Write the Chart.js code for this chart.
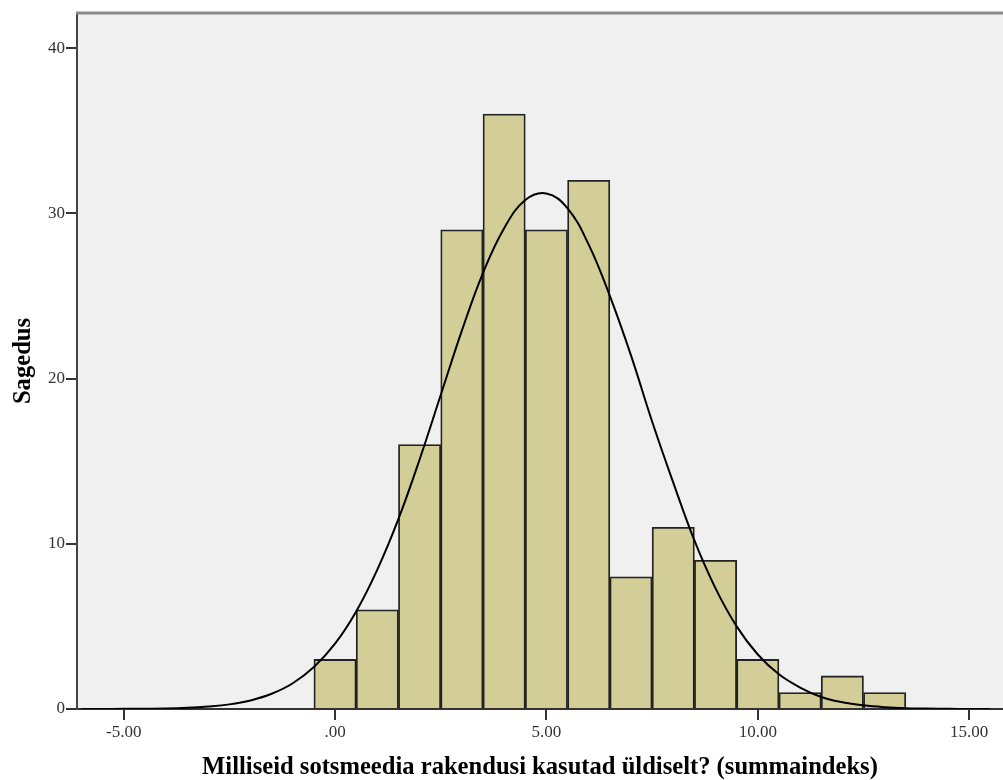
<!DOCTYPE html>
<html>
<head>
<meta charset="utf-8">
<script src="https://cdn.jsdelivr.net/npm/chart.js@4.4.1/dist/chart.umd.min.js"></script>
<style>
  html, body { margin: 0; padding: 0; background: #fff; }
</style>
</head>
<body>
<canvas id="hist" width="1003" height="780"></canvas>
<script>
// histogram: bin centres and counts (bin width 1)
const binCentres = [0, 1, 2, 3, 4, 5, 6, 7, 8, 9, 10, 11, 12, 13];
const counts = [3, 6, 16, 29, 36, 29, 32, 8, 11, 9, 3, 1, 2, 1];

// normal curve, every half unit
const curveX = [-6, -5.5, -5, -4.5, -4, -3.5, -3, -2.5, -2, -1.5, -1, -0.5, 0, 0.5, 1, 1.5, 2, 2.5, 3, 3.5,
  4, 4.5, 5, 5.5, 6, 6.5, 7, 7.5, 8, 8.5, 9, 9.5, 10, 10.5, 11, 11.5, 12, 12.5, 13, 13.5, 14, 14.5, 15, 15.5];
const curveY = [0, 0, 0.01, 0.02, 0.03, 0.07, 0.15, 0.28, 0.52, 0.92, 1.56, 2.54, 3.95, 5.9, 8.43, 11.5, 15.1, 19.0, 22.9, 26.4,
  29.1, 30.8, 31.2, 30.3, 28.1, 25.0, 21.4, 17.4, 13.7, 10.2, 7.3, 5.0, 3.3, 2.1, 1.3, 0.73, 0.41, 0.22, 0.11, 0.05, 0.03, 0.01, 0, 0];

// axis ticks
const xTicks = [-5, 0, 5, 10, 15];
const yTicks = [0, 10, 20, 30, 40];

const serif = '"Liberation Serif", "Times New Roman", serif';

// grey plot background + top frame line
const plotFrame = {
  id: 'plotFrame',
  beforeDraw(chart) {
    const { ctx, chartArea: a } = chart;
    ctx.save();
    ctx.fillStyle = '#f0f0f0';
    ctx.fillRect(a.left, a.top, a.right - a.left, a.bottom - a.top);
    ctx.restore();
  },
  afterDraw(chart) {
    const { ctx, chartArea: a } = chart;
    ctx.save();
    ctx.strokeStyle = '#8a8a8a';
    ctx.lineWidth = 3;
    ctx.beginPath();
    ctx.moveTo(a.left - 1, a.top);
    ctx.lineTo(a.right, a.top);
    ctx.stroke();
    ctx.restore();
  }
};

const ctx = document.getElementById('hist').getContext('2d');
new Chart(ctx, {
  type: 'bar',
  data: {
    datasets: [
      {
        type: 'line',
        data: curveX.map((x, i) => ({ x: x, y: curveY[i] })),
        borderColor: '#000',
        borderWidth: 2,
        pointRadius: 0,
        tension: 0.4,
        fill: false,
        order: 0
      },
      {
        type: 'bar',
        data: binCentres.map((x, i) => ({ x: x, y: counts[i] })),
        backgroundColor: '#d3ce97',
        borderColor: '#222',
        borderWidth: 1.8,
        barPercentage: 1,
        categoryPercentage: 1,
        order: 1
      }
    ]
  },
  options: {
    responsive: false,
    animation: false,
    events: [],
    layout: { padding: { top: 13, right: 0, bottom: 0, left: 0 } },
    plugins: {
      legend: { display: false },
      tooltip: { enabled: false }
    },
    scales: {
      x: {
        type: 'linear',
        min: -6.104,
        max: 15.80,
        offset: false,
        grid: { drawOnChartArea: false, drawTicks: true, tickLength: 11, color: '#333', lineWidth: 2, offset: false },
        border: { display: true, color: '#333', width: 2 },
        ticks: {
          color: '#333',
          font: { family: serif, size: 17 },
          padding: 2,
          maxRotation: 0,
          autoSkip: false,
          callback: (v) => (v === 0 ? '.00' : v.toFixed(2))
        },
        afterBuildTicks: (s) => { s.ticks = xTicks.map((v) => ({ value: v })); },
        afterFit: (s) => { s.height = 71; },
        title: {
          display: true,
          text: 'Milliseid sotsmeedia rakendusi kasutad üldiselt? (summaindeks)',
          color: '#000',
          font: { family: serif, size: 24.6, weight: 'bold', lineHeight: 1 },
          padding: 0
        }
      },
      y: {
        type: 'linear',
        min: 0,
        max: 42.12,
        grid: { drawOnChartArea: false, drawTicks: true, tickLength: 11, color: '#333', lineWidth: 2 },
        border: { display: true, color: '#444', width: 2 },
        ticks: {
          color: '#333',
          font: { family: serif, size: 17 },
          padding: 1,
          callback: (v) => String(v)
        },
        afterBuildTicks: (s) => { s.ticks = yTicks.map((v) => ({ value: v })); },
        afterFit: (s) => { s.width = 77; },
        title: {
          display: true,
          text: 'Sagedus',
          color: '#000',
          font: { family: serif, size: 24.6, weight: 'bold', lineHeight: 1 },
          padding: { top: 11, bottom: 0 }
        }
      }
    }
  },
  plugins: [plotFrame]
});
</script>
</body>
</html>
